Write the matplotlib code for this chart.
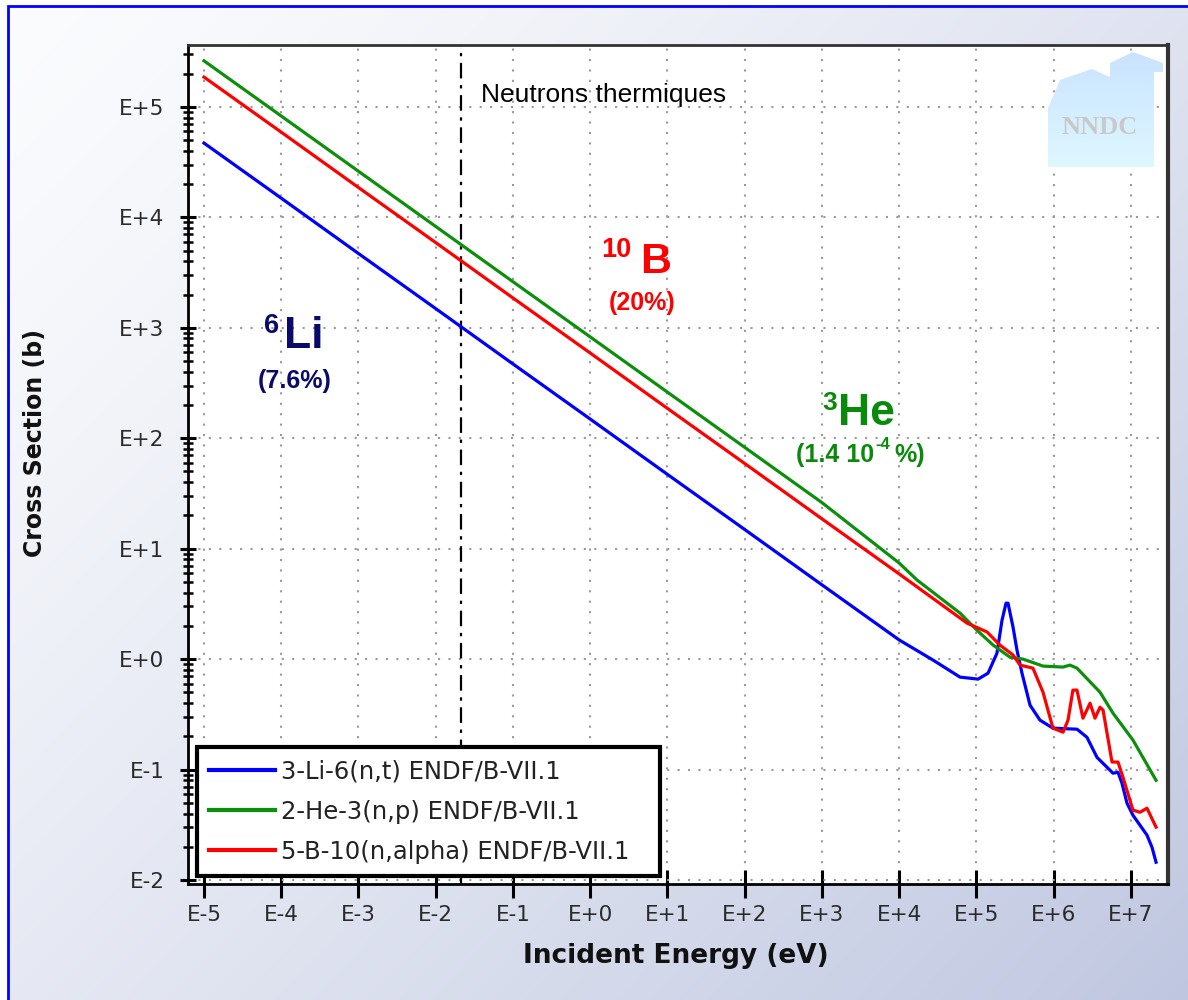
import numpy as np
import matplotlib
matplotlib.use("Agg")
import matplotlib.pyplot as plt
from matplotlib.ticker import LogLocator, FuncFormatter, NullFormatter, FixedLocator
from matplotlib.patches import Rectangle, Polygon

# ---------------- data ----------------
li6_energy = [1e-5, 1e-4, 1e-3, 1e-2, 1e-1, 1, 10, 100, 1e3, 1e4,
              2.74e4, 6.12e4, 1.05e5, 1.41e5, 1.84e5, 2.14e5, 2.41e5, 2.56e5,
              2.97e5, 3.34e5, 3.88e5, 4.93e5, 6.64e5, 9.77e5, 2.00e6, 2.69e6,
              3.63e6, 4.89e6, 5.85e6, 6.79e6, 7.64e6, 8.87e6, 1.06e7, 1.61e7,
              1.87e7, 2.11e7]
li6_xs = [4.7e4, 1.49e4, 4.7e3, 1.49e3, 470, 149, 47, 14.9, 4.7, 1.49,
          0.98, 0.687, 0.659, 0.746, 1.13, 2.25, 3.21, 3.21,
          1.95, 1.21, 0.746, 0.383, 0.280, 0.237, 0.232, 0.196,
          0.129, 0.105, 0.0927, 0.0946, 0.0753, 0.0497, 0.0386, 0.0255,
          0.0198, 0.0145]

he3_energy = [1e-5, 1e-4, 1e-3, 1e-2, 1e-1, 1, 10, 100, 1e3, 1e4,
              1.70e4, 6.12e4, 1.01e5, 1.64e5, 2.72e5, 4.00e5, 7.26e5, 1.32e6,
              1.62e6, 2.00e6, 3.97e6, 5.85e6, 1.06e7, 2.11e7]
he3_xs = [2.61e5, 8.26e4, 2.61e4, 8.26e3, 2.61e3, 826, 261, 82.6, 26.1, 7.4,
          5.2, 2.61, 1.83, 1.34, 1.04, 1.0, 0.865, 0.847,
          0.883, 0.828, 0.502, 0.324, 0.185, 0.080]

b10_energy = [1e-5, 1e-4, 1e-3, 1e-2, 1e-1, 1, 10, 100, 1e3, 1e4,
              7.53e4, 1.37e5, 2.01e5, 2.97e5, 3.66e5, 5.38e5, 7.26e5, 9.77e5,
              1.32e6, 1.53e6, 1.77e6, 2.00e6, 2.39e6, 2.95e6, 3.42e6, 3.97e6,
              4.35e6, 5.68e6, 6.79e6, 7.87e6, 1.06e7, 1.31e7, 1.61e7, 2.11e7]
b10_xs = [1.86e5, 5.9e4, 1.86e4, 5.9e3, 1.86e3, 590, 186, 59, 18.6, 5.9,
          2.12, 1.76, 1.34, 1.09, 0.883, 0.828, 0.502, 0.237,
          0.218, 0.280, 0.524, 0.524, 0.292, 0.399, 0.292, 0.367,
          0.345, 0.117, 0.117, 0.0853, 0.0429, 0.0411, 0.0447, 0.0301]

series_labels = ["3-Li-6(n,t) ENDF/B-VII.1",
                 "2-He-3(n,p) ENDF/B-VII.1",
                 "5-B-10(n,alpha) ENDF/B-VII.1"]
x_ticks = [1e-5, 1e-4, 1e-3, 1e-2, 1e-1, 1e0, 1e1, 1e2, 1e3, 1e4, 1e5, 1e6, 1e7]
y_ticks = [1e-2, 1e-1, 1e0, 1e1, 1e2, 1e3, 1e4, 1e5]
thermal_energy = 0.021

W, H = 1188, 1000
fig = plt.figure(figsize=(W / 100, H / 100), dpi=100)

def px(x, y):
    return x / W, 1 - y / H

# background gradient (figure image, pixel grid)
yy, xx = np.mgrid[0:1:H * 1j, 0:1:W * 1j]
t = np.clip((xx * 0.55 + yy * 0.45), 0, 1) ** 1.3
c0 = np.array([0.985, 0.988, 0.995])
c1 = np.array([0.75, 0.78, 0.88])
img = c0[None, None, :] * (1 - t[..., None]) + c1[None, None, :] * t[..., None]
img[:, :7, :] = 1.0
img[:6, :, :] = 1.0
fig.figimage(img, xo=0, yo=0, origin="upper", zorder=-10)
border = Rectangle(px(8, 1010), 1.2, (1004) / H, fill=False,
                   edgecolor="#0000ff", linewidth=2, transform=fig.transFigure,
                   zorder=-5)
fig.add_artist(border)

ax = fig.add_axes([188 / W, 1 - 884 / H, 980 / W, 839 / H])
ax.set_facecolor("white")
ax.set_xscale("log")
ax.set_yscale("log")
ax.set_xlim(10 ** -5.207, 10 ** 7.479)
ax.set_ylim(10 ** -2.036, 10 ** 5.56)

lw = 2.3
ax.plot(li6_energy, li6_xs, color="#0000ff", lw=lw, label=series_labels[0], zorder=3)
ax.plot(he3_energy, he3_xs, color="#0c900c", lw=lw, label=series_labels[1], zorder=3)
ax.plot(b10_energy, b10_xs, color="#ff0000", lw=lw, label=series_labels[2], zorder=3)

ax.axvline(thermal_energy, color="black", lw=1.6, dashes=(7, 3, 1.5, 3), zorder=2)

# ticks and grid
fmt = FuncFormatter(lambda v, p: "E%+d" % int(round(np.log10(v))))
ax.xaxis.set_major_locator(FixedLocator(x_ticks))
ax.xaxis.set_minor_locator(FixedLocator([]))
ax.yaxis.set_major_locator(FixedLocator(y_ticks))
y_minor = [m * v for v in [1e-2, 1e-1, 1e0, 1e1, 1e2, 1e3, 1e4, 1e5]
           for m in range(2, 10) if m * v < 10 ** 5.56]
ax.yaxis.set_minor_locator(FixedLocator(y_minor))
ax.xaxis.set_major_formatter(fmt)
ax.yaxis.set_major_formatter(fmt)
ax.yaxis.set_minor_formatter(NullFormatter())
ax.xaxis.set_minor_formatter(NullFormatter())
ax.tick_params(axis="x", which="major", direction="inout", length=20, width=2.2,
               labelsize=15.5, pad=5, colors="black", labelcolor="#2a2a2a")
ax.tick_params(axis="y", which="major", direction="inout", length=11, width=2.2,
               labelsize=15.5, pad=11.5, labelcolor="#2a2a2a")
ax.tick_params(axis="y", which="minor", direction="inout", length=7, width=1.8)
ax.tick_params(top=False, right=False)
ax.grid(True, which="major", color="#9a9a9a", linestyle=(0, (1, 4)), linewidth=1.5)
for s in ["left", "bottom"]:
    ax.spines[s].set_linewidth(2)
ax.spines["top"].set_linewidth(2)
ax.spines["top"].set_color("#333333")
ax.spines["right"].set_linewidth(3)
ax.spines["right"].set_color("#333333")

# axis labels
fig.text(*px(676, 956), "Incident Energy (eV)", ha="center", va="center",
         fontsize=19, fontweight="bold", color="#111111")
fig.text(*px(35, 443), "Cross Section (b)", ha="center", va="center",
         rotation=90, fontsize=17, fontweight="bold", color="#111111")

# legend
leg = ax.legend(loc="lower left", bbox_to_anchor=(9 / 980, 8 / 839, 463 / 980, 0),
                mode="expand", borderaxespad=0,
                fancybox=False, framealpha=1, edgecolor="black", fontsize=17.5,
                handlelength=2.7, labelspacing=0.67, borderpad=0.5,
                handletextpad=0.25)
leg.get_frame().set_linewidth(3)
for txt in leg.get_texts():
    txt.set_color("#222222")
for ln in leg.get_lines():
    ln.set_linewidth(3)

# annotations
arial = "Liberation Sans"
fig.text(*px(481, 102), "Neutrons thermiques", ha="left", va="baseline",
         fontsize=19, family=arial, color="black")

navy = "#0a0a6a"
fig.text(*px(264, 333), "6", ha="left", va="baseline", fontsize=19.5,
         fontweight="bold", family=arial, color=navy)
fig.text(*px(284, 348), "Li", ha="left", va="baseline", fontsize=32,
         fontweight="bold", family=arial, color=navy)
fig.text(*px(295, 388), "(7.6%)", ha="center", va="baseline", fontsize=18,
         fontweight="bold", family=arial, color=navy)

red = "#ff0000"
fig.text(*px(601, 257), "10", ha="left", va="baseline", fontsize=19.5,
         fontweight="bold", family=arial, color=red)
fig.text(*px(640, 273), "B", ha="left", va="baseline", fontsize=31,
         fontweight="bold", family=arial, color=red)
fig.text(*px(642, 310), "(20%)", ha="center", va="baseline", fontsize=18,
         fontweight="bold", family=arial, color=red)

green = "#0a8a0a"
fig.text(*px(822, 410), "3", ha="left", va="baseline", fontsize=19,
         fontweight="bold", family=arial, color=green)
fig.text(*px(838, 425), "He", ha="left", va="baseline", fontsize=32,
         fontweight="bold", family=arial, color=green)
fig.text(*px(796, 462), "(1.4 10", ha="left", va="baseline", fontsize=18,
         fontweight="bold", family=arial, color=green)
fig.text(*px(875, 449), "-4", ha="left", va="baseline", fontsize=12,
         fontweight="bold", family=arial, color=green)
fig.text(*px(894, 462), "%)", ha="left", va="baseline", fontsize=18,
         fontweight="bold", family=arial, color=green)

# NNDC logo (decoration) with vertical gradient
lx0, lx1, ly0, ly1 = 1048, 1163, 52, 167
logo_pts = [(1048, 167), (1048, 108), (1060, 80), (1092, 69), (1110, 77),
            (1110, 63), (1133, 52), (1163, 63), (1163, 72), (1154, 72),
            (1154, 167)]
logo = Polygon([px(x, y) for x, y in logo_pts], closed=True,
               facecolor="none", edgecolor="none", transform=fig.transFigure)
gy = np.linspace(0, 1, ly1 - ly0)[:, None, None]
top_c = np.array([0.79, 0.89, 1.0])
bot_c = np.array([0.87, 0.97, 1.0])
grad = top_c[None, None, :] * (1 - gy) + bot_c[None, None, :] * gy
grad = np.repeat(grad, lx1 - lx0, axis=1)
gim = fig.figimage(grad, xo=lx0, yo=H - ly1, origin="upper", zorder=5)
gim.set_clip_path(logo)
fig.text(*px(1100, 127), "NNDC", ha="center", va="center", fontsize=19,
         fontweight="bold", family="Liberation Serif", color="#c9c9c9", zorder=6)

fig.savefig("out.png", dpi=100)
